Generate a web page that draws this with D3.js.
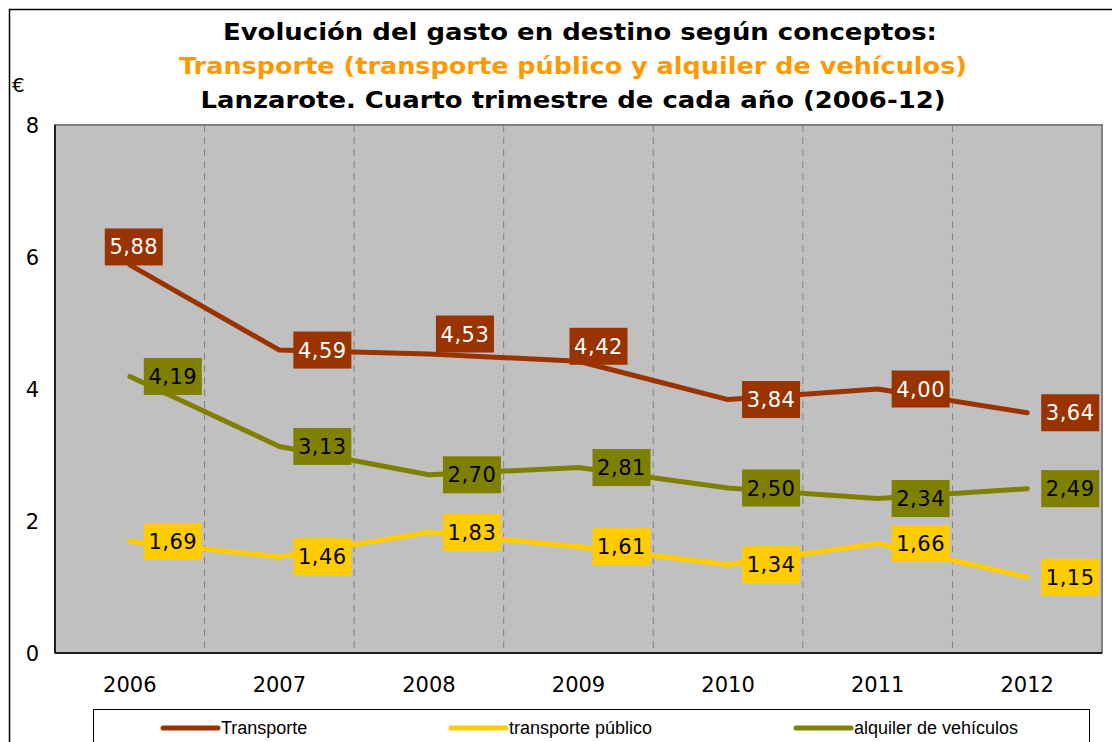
<!DOCTYPE html>
<html>
<head>
<meta charset="utf-8">
<script src="https://cdn.jsdelivr.net/npm/d3@7"></script>
<style>
  body { margin: 0; background: #fff; }
  svg { display: block; }
</style>
</head>
<body>
<div id="chart"></div>
<script>
// data
const years = ["2006", "2007", "2008", "2009", "2010", "2011", "2012"];
const transporte = [5.88, 4.59, 4.53, 4.42, 3.84, 4.00, 3.64];
const transportePublico = [1.69, 1.46, 1.83, 1.61, 1.34, 1.66, 1.15];
const alquilerVehiculos = [4.19, 3.13, 2.70, 2.81, 2.50, 2.34, 2.49];
const yTicks = [0, 2, 4, 6, 8];
const seriesNames = ["Transporte", "transporte público", "alquiler de vehículos"];

const width = 1112, height = 742;
const plot = {left: 55, right: 1102, top: 125, bottom: 653};

const svg = d3.select("#chart").append("svg")
    .attr("width", width)
    .attr("height", height)
    .style("font-family", "'DejaVu Sans', Verdana, sans-serif");

// outer frame
svg.append("rect")
    .attr("x", 9.5).attr("y", 9.5)
    .attr("width", 1200).attr("height", 800)
    .attr("fill", "none")
    .attr("stroke", "#000")
    .attr("stroke-width", 1.5);

// titles (stretched to the width of the Verdana original)
const titles = [
    {text: "Evolución del gasto en destino según conceptos:", color: "#000", y: 40, x: 580, len: 714},
    {text: "Transporte (transporte público y alquiler de vehículos)", color: "#FF9900", y: 74, x: 573, len: 788},
    {text: "Lanzarote. Cuarto trimestre de cada año (2006-12)", color: "#000", y: 108, x: 573, len: 745}
];
svg.append("g").selectAll("text")
    .data(titles)
    .join("text")
    .attr("x", d => d.x)
    .attr("y", d => d.y)
    .attr("text-anchor", "middle")
    .attr("font-size", "22.5px")
    .attr("font-weight", "bold")
    .attr("textLength", d => d.len)
    .attr("lengthAdjust", "spacingAndGlyphs")
    .attr("fill", d => d.color)
    .text(d => d.text);

svg.append("text")
    .attr("x", 12).attr("y", 92)
    .attr("font-size", "20px")
    .text("€");

// scales
const x = d3.scaleBand().domain(years).range([plot.left, plot.right]).padding(0);
const y = d3.scaleLinear().domain([0, 8]).range([plot.bottom, plot.top]);
const cx = d => x(d) + x.bandwidth() / 2;

// plot area
svg.append("rect")
    .attr("x", plot.left).attr("y", plot.top)
    .attr("width", plot.right - plot.left)
    .attr("height", plot.bottom - plot.top)
    .attr("fill", "#C0C0C0")
    .attr("stroke", "#808080")
    .attr("stroke-width", 2);

// dashed separators between years
svg.append("g").selectAll("line")
    .data(years.slice(1))
    .join("line")
    .attr("x1", d => x(d)).attr("x2", d => x(d))
    .attr("y1", plot.top).attr("y2", plot.bottom)
    .attr("stroke", "#808080")
    .attr("stroke-width", 1)
    .attr("stroke-dasharray", "7,5");

// axes lines
svg.append("line")
    .attr("x1", plot.left).attr("x2", plot.left)
    .attr("y1", plot.top).attr("y2", plot.bottom)
    .attr("stroke", "#000").attr("stroke-width", 1.5);
svg.append("line")
    .attr("x1", plot.left).attr("x2", plot.right)
    .attr("y1", plot.bottom).attr("y2", plot.bottom)
    .attr("stroke", "#000").attr("stroke-width", 1.5);

// y tick labels
svg.append("g").selectAll("text")
    .data(yTicks)
    .join("text")
    .attr("x", 39)
    .attr("y", d => y(d))
    .attr("dy", "0.36em")
    .attr("text-anchor", "end")
    .attr("font-size", "21px")
    .text(d => d);

// x tick labels
svg.append("g").selectAll("text")
    .data(years)
    .join("text")
    .attr("x", d => cx(d))
    .attr("y", 692)
    .attr("text-anchor", "middle")
    .attr("font-size", "21px")
    .text(d => d);

// series
const series = [
    {name: seriesNames[0], values: transporte, color: "#993300", text: "#fff"},
    {name: seriesNames[1], values: transportePublico, color: "#FFCC00", text: "#000"},
    {name: seriesNames[2], values: alquilerVehiculos, color: "#808000", text: "#000"}
];

// label offsets (box centre relative to point); default is right of point
const labelOffsets = {
    "Transporte-0": [4, -18],
    "Transporte-2": [36, -20],
    "Transporte-3": [20, -15]
};

const line = d3.line()
    .x((d, i) => cx(years[i]))
    .y(d => y(d));

// draw lines, Transporte on top
[series[1], series[2], series[0]].forEach(s => {
    svg.append("path")
        .datum(s.values)
        .attr("d", line)
        .attr("fill", "none")
        .attr("stroke", s.color)
        .attr("stroke-width", 5)
        .attr("stroke-linejoin", "round")
        .attr("stroke-linecap", "round");
});

const fmt = v => v.toFixed(2).replace(".", ",");
const boxW = 58, boxH = 37;

series.forEach(s => {
    const g = svg.append("g");
    s.values.forEach((v, i) => {
        const off = labelOffsets[s.name + "-" + i] || [14 + boxW / 2, 0];
        const bx = cx(years[i]) + off[0];
        const by = y(v) + off[1];
        g.append("rect")
            .attr("x", bx - boxW / 2)
            .attr("y", by - boxH / 2)
            .attr("width", boxW)
            .attr("height", boxH)
            .attr("fill", s.color);
        g.append("text")
            .attr("x", bx)
            .attr("y", by)
            .attr("dy", "0.36em")
            .attr("text-anchor", "middle")
            .attr("font-size", "21px")
            .attr("letter-spacing", "0.5px")
            .attr("fill", s.text)
            .text(fmt(v));
    });
});

// legend
svg.append("rect")
    .attr("x", 93.5).attr("y", 709.5)
    .attr("width", 996).attr("height", 60)
    .attr("fill", "#fff")
    .attr("stroke", "#000")
    .attr("stroke-width", 1);

const legendX = [163, 451, 796];
const legend = svg.append("g").selectAll("g")
    .data(series)
    .join("g")
    .attr("transform", (d, i) => `translate(${legendX[i]},728)`);
legend.append("line")
    .attr("x1", 0).attr("x2", 55)
    .attr("stroke", d => d.color)
    .attr("stroke-width", 5)
    .attr("stroke-linecap", "round");
legend.append("text")
    .attr("x", 58)
    .attr("dy", "0.36em")
    .attr("font-family", "'Liberation Sans Narrow', 'Arial Narrow', 'Liberation Sans', sans-serif")
    .attr("font-size", "18px")
    .text(d => d.name);
</script>
</body>
</html>
